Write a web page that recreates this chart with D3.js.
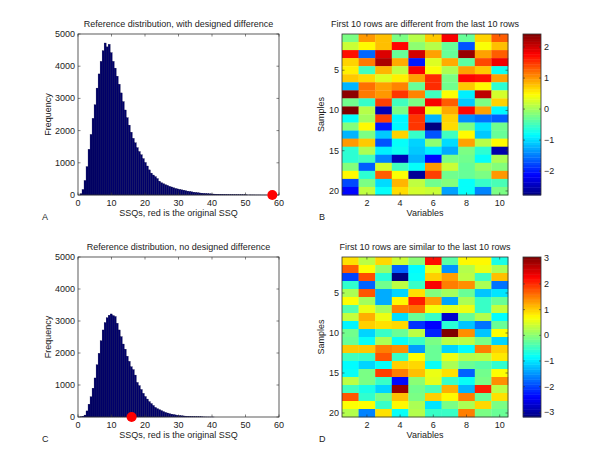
<!DOCTYPE html>
<html><head><meta charset="utf-8">
<script src="https://cdn.jsdelivr.net/npm/d3@7"></script>
<style>body{margin:0;background:#fff}svg{display:block}text{font-family:"Liberation Sans",Arial,sans-serif;fill:#222}</style>
</head><body>
<script>
// ---------- DATA ----------
const binStart = 0.6, binWidth = 0.6;
const histCountsA = [40,170,450,880,1420,1880,2380,2800,3320,3760,4150,4480,4720,4600,4680,4420,4150,3940,3690,3440,3170,2900,2640,2400,2170,1950,1760,1620,1470,1350,1250,1130,1010,900,780,680,620,570,510,430,380,350,320,300,270,250,225,205,190,175,160,150,135,120,110,98,88,80,72,65,58,52,48,43,38,34,30,27,25,22,20,18,16,14,12,11,10,9,8,7,6,5,5,4,4,3,3,2,2,2,1,1,1];
const histCountsC = [5,25,60,190,400,630,900,1220,1630,1990,2380,2720,2950,3100,3180,3220,3170,3140,2930,2720,2510,2280,2120,1900,1740,1570,1480,1310,1080,980,860,740,640,560,480,420,360,300,260,230,200,170,145,125,105,90,78,66,56,48,40,34,28,23,19,15,12,10,8,6,5,4,3,2,2,1,1];
const originalSSQ_A = 58;
const originalSSQ_C = 16;
const histXTicks = [0,10,20,30,40,50,60];
const histYTicks = [0,1000,2000,3000,4000,5000];

const heatB = [
 [-0.2,1.0,0.8,-0.2,0.1,0.75,1.8,-0.3,0.7,1.3],
 [0.2,0.5,0.8,1.75,-0.1,0.1,-0.3,-1.7,0.45,0.8],
 [1.7,-1.6,1.95,-0.3,2.0,0.95,-0.3,2.3,0.95,1.3],
 [0.7,1.15,2.2,0.9,-2.0,0.3,0.9,-0.35,1.4,1.85],
 [0.55,-0.5,0.85,0.15,1.8,0.45,0.05,0.95,0.75,-0.75],
 [0.75,0.65,0.3,0.55,0.95,1.55,-0.2,1.75,1.7,0.95],
 [-1.2,1.2,0.95,1.1,-0.3,1.55,-0.25,0.75,0.5,-0.6],
 [2.35,1.15,1.0,1.5,1.1,-0.5,0.45,-0.9,2.1,0.25],
 [-0.25,-0.55,1.45,-0.5,-0.2,1.8,1.3,-1.1,-0.2,0.7],
 [2.42,0.1,-2.5,-0.2,1.85,0.4,0.9,1.75,0.95,-0.85],
 [-0.8,0.0,1.45,-0.85,1.5,-1.2,0.7,-1.4,-1.55,-1.65],
 [-0.15,0.5,-2.0,-0.85,1.5,-2.77,0.65,-0.2,-0.95,-0.25],
 [-1.2,-0.2,-1.1,0.7,-0.55,-1.7,-0.5,0.5,-1.1,-0.3],
 [1.0,0.75,-1.7,-0.8,-1.05,-0.1,-1.0,0.95,0.1,0.5],
 [-0.6,0.05,-0.9,-0.75,-1.1,-0.9,-1.25,-0.2,-0.6,-2.55],
 [-0.6,-0.5,-1.45,-2.5,-1.2,-2.1,-0.2,-0.25,-0.8,0.05],
 [-0.15,-1.65,0.25,-0.5,-0.8,1.0,0.2,-0.3,-0.05,-0.15],
 [0.5,-0.6,1.3,0.45,-2.65,1.45,-0.25,-0.3,-0.2,1.0],
 [-1.75,-0.2,-1.0,0.85,0.15,-0.25,-0.15,-0.8,-0.55,-0.45],
 [-2.1,0.15,-0.8,0.65,0.25,0.2,-1.3,-0.8,-1.45,-0.2]
];
const heatD = [
 [0.9,0.3,0.95,0.4,0.0,2.2,-0.3,0.75,0.75,-0.7],
 [1.7,0.7,0.05,-1.8,-0.85,0.6,-1.5,0.25,0.6,0.2],
 [-2.0,1.8,-0.6,-3.18,-0.8,1.0,1.3,0.3,-0.45,1.1],
 [-0.55,-1.8,-0.15,0.3,-0.5,2.3,1.5,1.4,0.2,-1.7],
 [0.2,1.75,-1.35,-1.1,0.9,-0.05,0.15,-0.2,-1.2,-1.0],
 [0.7,0.15,-1.35,0.75,2.1,1.3,-1.4,0.2,-0.5,-0.2],
 [-0.35,0.6,0.15,1.5,1.6,0.65,0.55,0.6,-0.5,0.35],
 [0.35,1.2,0.6,-1.05,-0.2,-0.5,-2.7,-0.2,0.25,-0.85],
 [-0.9,1.0,0.9,0.95,-2.1,-2.4,-0.6,-1.2,-1.7,-0.2],
 [-0.15,-1.1,-0.5,-0.2,0.3,-2.2,3.05,1.4,-1.2,0.7],
 [-0.2,-0.8,0.2,-0.8,-0.5,-0.1,0.3,0.3,-0.1,-1.1],
 [1.05,1.05,1.5,1.4,-1.45,-0.2,-1.1,-0.85,1.5,1.0],
 [-0.45,-0.5,1.75,-0.5,0.7,-0.2,0.6,0.25,0.3,0.85],
 [-0.85,-1.1,-0.8,1.0,0.95,-0.8,0.2,-0.2,-0.3,-0.55],
 [-0.8,-0.1,1.9,1.5,1.1,0.6,0.9,-1.8,-0.15,0.7],
 [0.3,-0.1,-0.5,-2.35,0.0,0.55,-0.5,-0.8,-0.1,1.4],
 [-0.45,-0.7,-1.1,2.9,-0.15,-0.4,1.2,-1.3,2.1,0.3],
 [1.75,-0.55,-0.1,1.1,-0.1,1.0,0.75,1.5,-0.2,0.9],
 [0.7,0.7,-0.5,0.75,0.2,-1.0,-0.1,0.2,0.95,-0.1],
 [0.25,-1.6,0.9,-0.8,0.25,-0.5,-0.5,1.5,-0.1,-0.2]
];
const heatXTicks = [2,4,6,8,10];
const heatYTicks = [5,10,15,20];
const cbTicksB = [-2,-1,0,1,2];
const cbTicksD = [-3,-2,-1,0,1,2,3];

// ---------- DRAW ----------
const svg = d3.select("body").append("svg").attr("width",600).attr("height",469);
const AX = "#333";
const FS = 9;

function jet(t){
  const c=v=>Math.max(0,Math.min(1,v));
  return d3.rgb(255*c(1.5-Math.abs(4*t-3)),255*c(1.5-Math.abs(4*t-2)),255*c(1.5-Math.abs(4*t-1))).toString();
}

function boxAxes(g, x, y, xt, yt, tl){
  const [x0,x1]=x.range(), [y0,y1]=y.range();
  g.append("rect").attr("x",x0).attr("y",y1).attr("width",x1-x0).attr("height",y0-y1)
    .attr("fill","none").attr("stroke",AX).attr("stroke-width",0.8);
  xt.forEach(v=>{
    const px=x(v);
    g.append("line").attr("x1",px).attr("x2",px).attr("y1",y0).attr("y2",y0-tl).attr("stroke",AX).attr("stroke-width",0.6);
    g.append("line").attr("x1",px).attr("x2",px).attr("y1",y1).attr("y2",y1+tl).attr("stroke",AX).attr("stroke-width",0.6);
  });
  yt.forEach(v=>{
    const py=y(v);
    g.append("line").attr("x1",x0).attr("x2",x0+tl).attr("y1",py).attr("y2",py).attr("stroke",AX).attr("stroke-width",0.6);
    g.append("line").attr("x1",x1).attr("x2",x1-tl).attr("y1",py).attr("y2",py).attr("stroke",AX).attr("stroke-width",0.6);
  });
}

function text(g,x,y,s,anchor,rot){
  const t=g.append("text").attr("x",x).attr("y",y).attr("font-size",FS).attr("text-anchor",anchor||"middle").text(s);
  if(rot) t.attr("transform",`rotate(-90,${x},${y})`);
  return t;
}

function histPanel(counts, ssq, top, bottom, title, letter){
  const g=svg.append("g");
  const x=d3.scaleLinear().domain([0,60]).range([78,279]);
  const y=d3.scaleLinear().domain([0,5000]).range([bottom,top]);
  g.selectAll("rect.bar").data(counts).join("rect").attr("class","bar")
    .attr("x",(d,i)=>x(binStart+i*binWidth))
    .attr("width",(d,i)=>x(binStart+(i+1)*binWidth)-x(binStart+i*binWidth))
    .attr("y",d=>y(d)).attr("height",d=>y(0)-y(d))
    .attr("fill","#00006a").attr("stroke","#000040").attr("stroke-width",0.3);
  boxAxes(g,x,y,histXTicks,histYTicks,2.5);
  histXTicks.forEach(v=>text(g,x(v),bottom+11,v));
  histYTicks.forEach(v=>text(g,75,y(v)+3,v,"end"));
  text(g,(78+279)/2,top-7,title);
  text(g,(78+279)/2,bottom+21,"SSQs, red is the original SSQ");
  text(g,51,(top+bottom)/2,"Frequency","middle",true);
  text(g,42,bottom+25,letter,"start");
  g.append("circle").attr("cx",x(ssq)).attr("cy",y(0)).attr("r",5).attr("fill","#ff0000");
}

function heatPanel(data, top, bottom, title, letter, cbTicks, letterDy){
  const g=svg.append("g");
  const x=d3.scaleLinear().domain([0.5,10.5]).range([342,508]);
  const y=d3.scaleLinear().domain([20.5,0.5]).range([bottom,top]);
  const ext=d3.extent(data.flat());
  const norm=d3.scaleLinear().domain(ext).range([0,1]);
  data.forEach((row,ri)=>row.forEach((v,ci)=>{
    g.append("rect").attr("x",x(ci+0.5)).attr("y",y(ri+0.5))
      .attr("width",x(ci+1.5)-x(ci+0.5)+0.3).attr("height",y(ri+1.5)-y(ri+0.5)+0.3)
      .attr("fill",jet(norm(v)));
  }));
  boxAxes(g,x,y,heatXTicks,heatYTicks,2.5);
  heatXTicks.forEach(v=>text(g,x(v),bottom+11,v));
  heatYTicks.forEach(v=>text(g,339,y(v)+3,v,"end"));
  text(g,(342+508)/2,top-7,title);
  text(g,(342+508)/2,bottom+21,"Variables");
  text(g,324,(top+bottom)/2,"Samples","middle",true);
  text(g,319,bottom+25+(letterDy||0),letter,"start");
  // colorbar
  const cy=d3.scaleLinear().domain(ext).range([bottom,top]);
  const N=64;
  for(let i=0;i<N;i++){
    const v0=ext[0]+(ext[1]-ext[0])*i/N, v1=ext[0]+(ext[1]-ext[0])*(i+1)/N;
    g.append("rect").attr("x",523).attr("width",18).attr("y",cy(v1)).attr("height",cy(v0)-cy(v1)+0.4)
      .attr("fill",jet((i+0.5)/N));
  }
  const cx=d3.scaleLinear().domain([0,1]).range([523,541]);
  boxAxes(g,cx,cy,[],cbTicks,2);
  cbTicks.forEach(v=>text(g,544,cy(v)+3,d3.format("")(v),"start"));
}

histPanel(histCountsA, originalSSQ_A, 34, 195, "Reference distribution, with designed difference", "A");
histPanel(histCountsC, originalSSQ_C, 257, 417, "Reference distribution, no designed difference", "C");
heatPanel(heatB, 34, 195, "First 10 rows are different from the last 10 rows", "B", cbTicksB, 0);
heatPanel(heatD, 257, 417, "First 10 rows are similar to the last 10 rows", "D", cbTicksD, 0);
</script>
</body></html>
